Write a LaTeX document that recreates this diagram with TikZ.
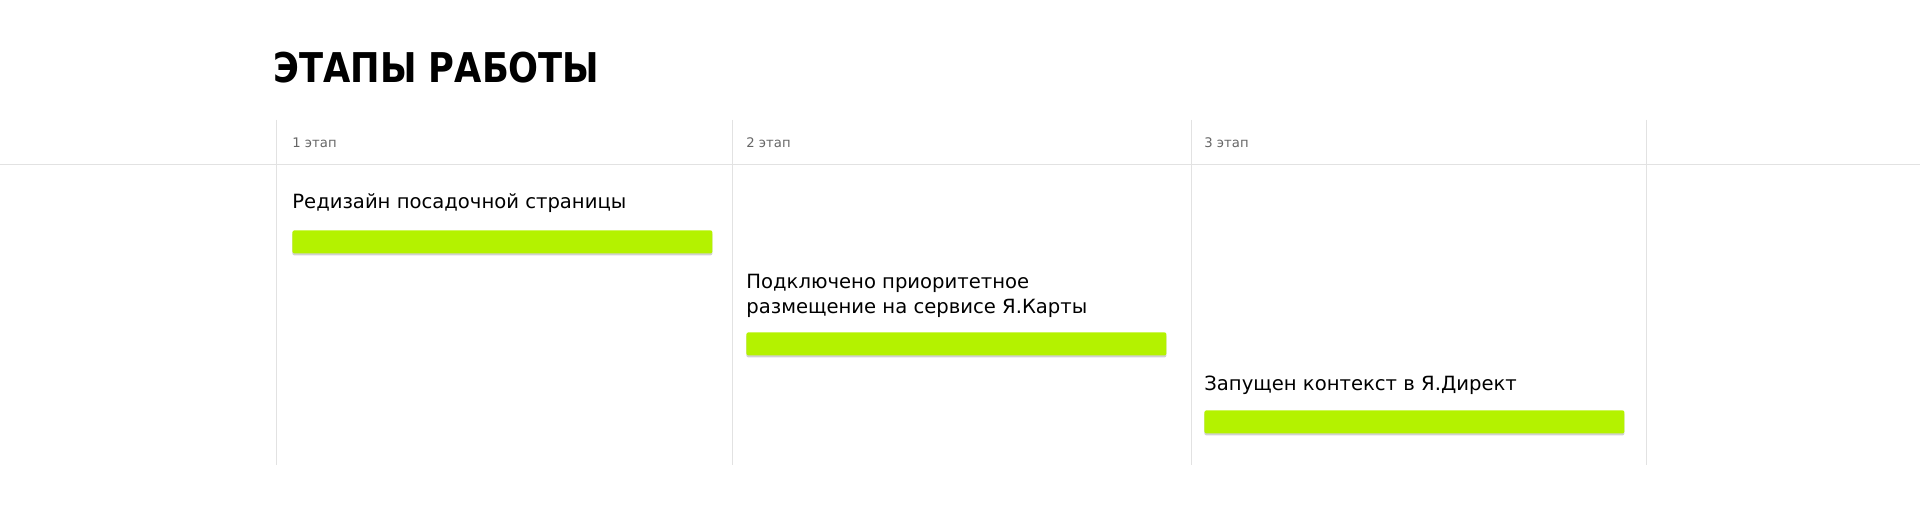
\documentclass[tikz,border=0pt]{standalone}
\usepackage{fontspec}
\setmainfont{DejaVu Sans}
\newfontfamily\titlefont[FakeStretch=0.86]{DejaVu Sans}
\usetikzlibrary{shadows}
\definecolor{gridline}{RGB}{226,226,226}
\definecolor{lime}{RGB}{180,242,0}
\definecolor{stagegray}{RGB}{102,102,102}
\begin{document}
\begin{tikzpicture}[x=0.5pt,y=-0.5pt,
  grid/.style={draw=gridline,line width=0.5pt},
  stagelbl/.style={anchor=base west,inner sep=0pt,text=stagegray,font=\fontsize{6.6pt}{8pt}\selectfont},
  steptxt/.style={anchor=base west,inner sep=0pt,align=left,font=\fontsize{9.8pt}{12.5pt}\selectfont},
  limebar/.style={fill=lime,draw=none,rounded corners=1pt,minimum width=210pt,minimum height=11.5pt,inner sep=0pt,anchor=north west,
    drop shadow={shadow xshift=0pt,shadow yshift=-1pt,opacity=0.18,fill=black}}]
\useasboundingbox (0,0) rectangle (1920,524);
\fill[white] (0,0) rectangle (1920,524);
% grid
\coordinate (h0) at (0,164);
\coordinate (h1) at (1920,164);
\draw[grid] (h0) -- (h1);
\foreach \i/\x in {a/276,b/732,c/1191,d/1646}{
  \coordinate (\i top) at (\x,120);
  \coordinate (\i bot) at (\x,465);
  \draw[grid] (\i top) -- (\i bot);
}
% title
\node[anchor=base west,inner sep=0pt,font=\titlefont\fontsize{20.5pt}{24pt}\selectfont\bfseries] (title) at (273,83) {ЭТАПЫ РАБОТЫ};
% stages
\node[stagelbl] (s1) at (292,148) {1 этап};
\node[stagelbl] (s2) at (746,148) {2 этап};
\node[stagelbl] (s3) at (1204,148) {3 этап};
% texts
\node[steptxt] (t1) at (292,208) {Редизайн посадочной страницы};
\node[steptxt] (t2) at (746,313) {Подключено приоритетное\\размещение на сервисе Я.Карты};
\node[steptxt] (t3) at (1204,390) {Запущен контекст в Я.Директ};
% bars
\node[limebar] (b1) at (292,230) {};
\node[limebar] (b2) at (746,332) {};
\node[limebar] (b3) at (1204,410) {};
\end{tikzpicture}
\end{document}
